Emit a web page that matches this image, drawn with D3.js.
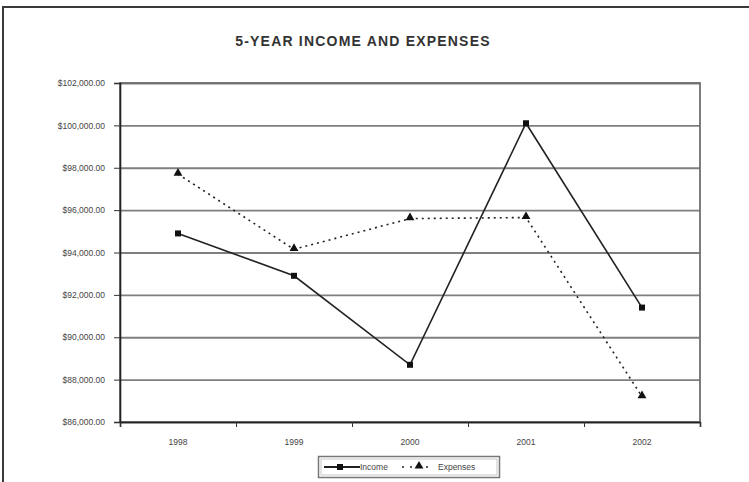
<!DOCTYPE html>
<html><head><meta charset="utf-8">
<script src="https://cdn.jsdelivr.net/npm/d3@7/dist/d3.min.js"></script>
<style>
html,body{margin:0;padding:0;background:#fff;}
svg{display:block;font-family:"Liberation Sans",Arial,sans-serif;}
</style></head>
<body>
<svg id="chart" width="749" height="482"></svg>
<script>
const years = ["1998","1999","2000","2001","2002"];
const income = [94900, 92900, 88700, 100100, 91400];
const expenses = [97700, 94150, 95600, 95650, 87200];
const yTicks = [86000, 88000, 90000, 92000, 94000, 96000, 98000, 100000, 102000];
const titleText = "5-YEAR INCOME AND EXPENSES";
const seriesNames = ["Income", "Expenses"];

const svg = d3.select("#chart");
const L = 120, R = 700, T = 83, B = 422;

// outer frame
svg.append("rect").attr("x",3).attr("y",7).attr("width",760).attr("height",490)
  .attr("fill","#fff").attr("stroke","#3a3a3a").attr("stroke-width",2);

const x = d3.scaleBand().domain(years).range([L,R]);
const xb = d3.scaleLinear().domain([0, years.length]).range([L,R]);
const y = d3.scaleLinear().domain([86000,102000]).range([B,T]);

// gridlines
svg.append("g").attr("transform",`translate(${L},0)`)
  .call(d3.axisLeft(y).tickValues(yTicks).tickSize(-(R-L)).tickFormat(""))
  .call(g=>g.select(".domain").remove())
  .call(g=>g.selectAll("line").attr("stroke","#7f7f7f").attr("stroke-width",1.8));

// plot border
svg.append("rect").attr("x",L).attr("y",T).attr("width",R-L).attr("height",B-T)
  .attr("fill","none").attr("stroke","#6f6f6f").attr("stroke-width",1.8);

// y axis
svg.append("g").attr("transform",`translate(${L},0)`)
  .call(d3.axisLeft(y).tickValues(yTicks).tickSize(6).tickPadding(9).tickFormat(d3.format("$,.2f")))
  .call(g=>g.select(".domain").attr("stroke","#222").attr("stroke-width",1.6))
  .call(g=>g.selectAll("line").attr("stroke","#333"))
  .call(g=>g.selectAll("text").attr("font-size",8.5).attr("fill","#444").attr("font-family","'Liberation Sans',Arial,sans-serif"));

// x axis ticks at category boundaries
svg.append("g").attr("transform",`translate(0,${B})`)
  .call(d3.axisBottom(xb).tickValues(d3.range(years.length+1)).tickSize(5).tickFormat(""))
  .call(g=>g.select(".domain").attr("stroke","#222").attr("stroke-width",1.6))
  .call(g=>g.selectAll("line").attr("stroke","#333"));
// x labels
svg.append("g").attr("transform",`translate(0,${B})`)
  .call(d3.axisBottom(x).tickSize(0).tickPadding(17))
  .call(g=>g.select(".domain").remove())
  .call(g=>g.selectAll("text").attr("font-size",8.5).attr("fill","#444").attr("font-family","'Liberation Sans',Arial,sans-serif"));

// title
svg.append("text").attr("x",363).attr("y",46).attr("text-anchor","middle")
  .attr("font-size",14).attr("font-weight","bold").attr("letter-spacing",1.2).attr("fill","#333")
  .text(titleText);

const cx = (d,i)=>x(years[i]) + x.bandwidth()/2;
const line = d3.line().x(cx).y(d=>y(d));

svg.append("path").datum(expenses).attr("d",line).attr("fill","none")
  .attr("stroke","#222").attr("stroke-width",1.6).attr("stroke-dasharray","2,4");
svg.append("path").datum(income).attr("d",line).attr("fill","none")
  .attr("stroke","#222").attr("stroke-width",1.6);

const sq = d3.symbol().type(d3.symbolSquare).size(36);
const tri = d3.symbol().type(d3.symbolTriangle).size(34);
svg.append("g").selectAll("path").data(income).join("path")
  .attr("d",sq).attr("transform",(d,i)=>`translate(${cx(d,i)},${y(d)})`).attr("fill","#111");
svg.append("g").selectAll("path").data(expenses).join("path")
  .attr("d",tri).attr("transform",(d,i)=>`translate(${cx(d,i)},${y(d)-1})`).attr("fill","#111");

// legend
const lg = svg.append("g");
lg.append("rect").attr("x",318.5).attr("y",456.5).attr("width",181).attr("height",21)
  .attr("fill","#fff").attr("stroke","#777").attr("stroke-width",1.5);
lg.append("rect").attr("x",321).attr("y",459).attr("width",176).attr("height",16)
  .attr("fill","none").attr("stroke","#bbb").attr("stroke-width",0.8);
const ly = 467;
lg.append("line").attr("x1",324).attr("x2",360).attr("y1",ly).attr("y2",ly)
  .attr("stroke","#222").attr("stroke-width",1.8);
lg.append("path").attr("d",sq).attr("transform",`translate(340,${ly})`).attr("fill","#111");
lg.append("text").attr("x",360).attr("y",ly+3).attr("font-size",8.5).attr("fill","#444").text(seriesNames[0]);
lg.append("line").attr("x1",402).attr("x2",432).attr("y1",ly).attr("y2",ly)
  .attr("stroke","#222").attr("stroke-width",1.6).attr("stroke-dasharray","2,6");
lg.append("path").attr("d",tri).attr("transform",`translate(419,${ly-1})`).attr("fill","#111");
lg.append("text").attr("x",438).attr("y",ly+3).attr("font-size",8.5).attr("fill","#444").text(seriesNames[1]);
</script>
</body></html>
